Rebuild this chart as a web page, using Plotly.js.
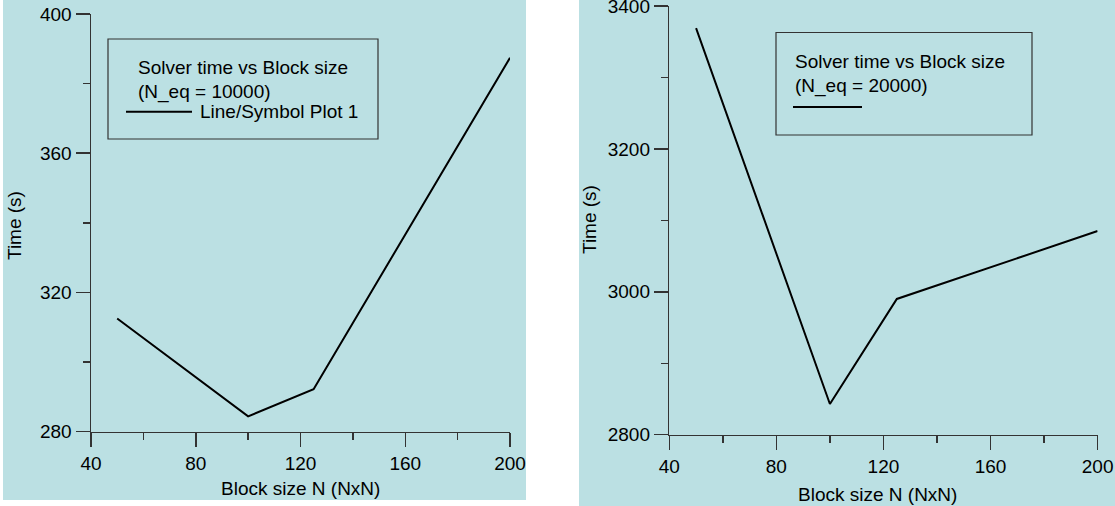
<!DOCTYPE html>
<html>
<head>
<meta charset="utf-8">
<script src="https://cdn.plot.ly/plotly-3.0.1.min.js"></script>
<style>html,body{margin:0;padding:0;background:#fff;}#chart{width:1115px;height:506px;}</style>
</head>
<body>
<div id="chart"></div>
<script>
// ---- data ----
const blockSize = [50, 100, 125, 200];
const time10k = [312.5, 284.4, 292.2, 387.4];
const time20k = [3369, 2843, 2990, 3085];
const xTickVals = [40, 80, 120, 160, 200];
const yTickValsLeft = [280, 320, 360, 400];
const yTickValsRight = [2800, 3000, 3200, 3400];
const legendTitle1 = ["Solver time vs Block size", "(N_eq = 10000)"];
const legendTitle2 = ["Solver time vs Block size", "(N_eq = 20000)"];
const seriesName1 = "Line/Symbol Plot 1";
const xTitle = "Block size N (NxN)";
const yTitle = "Time (s)";

const W = 1115, H = 506;
const px = v => v / W;
const py = v => 1 - v / H;
const FONT = "Liberation Sans, Arial, sans-serif";
const AX = "#333333";
const BG = "#BBE0E3";

function xAxis(domain, anchor) {
  return {
    domain: domain, anchor: anchor, range: [40, 200], tickmode: "array",
    tickvals: xTickVals, ticktext: xTickVals.map(String),
    showgrid: false, zeroline: false, showline: true, linecolor: AX, linewidth: 1.5,
    ticks: "outside", ticklen: 14, tickwidth: 1.5, tickcolor: AX,
    minor: {dtick: 20, tick0: 40, ticks: "outside", ticklen: 7, tickwidth: 1.5, tickcolor: AX, showgrid: false},
    tickfont: {family: FONT, size: 19, color: "#000"}, ticklabeloverflow: "allow", fixedrange: true
  };
}
function yAxis(domain, anchor, range, vals, minorStep) {
  return {
    domain: domain, anchor: anchor, range: range, tickmode: "array",
    tickvals: vals, ticktext: vals.map(String),
    showgrid: false, zeroline: false, showline: true, linecolor: AX, linewidth: 1.5,
    ticks: "outside", ticklen: 14, tickwidth: 1.5, tickcolor: AX,
    minor: {dtick: minorStep, tick0: range[0], ticks: "outside", ticklen: 7, tickwidth: 1.5, tickcolor: AX, showgrid: false},
    tickfont: {family: FONT, size: 19, color: "#000"}, ticklabeloverflow: "allow", fixedrange: true
  };
}

const traces = [
  {x: blockSize, y: time10k, xaxis: "x", yaxis: "y", type: "scatter", mode: "lines",
   name: seriesName1, line: {color: "#000", width: 2}, showlegend: false, cliponaxis: false},
  {x: blockSize, y: time20k, xaxis: "x2", yaxis: "y2", type: "scatter", mode: "lines",
   name: "N_eq = 20000", line: {color: "#000", width: 2}, showlegend: false, cliponaxis: false}
];

function ann(text, x, y, opts) {
  return Object.assign({text: text, x: px(x), y: py(y), xref: "paper", yref: "paper",
    showarrow: false, xanchor: "left", yanchor: "middle",
    font: {family: FONT, size: 19, color: "#000"}}, opts || {});
}

const annotations = [
  ann(legendTitle1[0], 135.5, 67.5),
  ann(legendTitle1[1], 135.5, 91.7),
  ann(seriesName1, 198, 111.5),
  ann(legendTitle2[0], 793, 61.7),
  ann(legendTitle2[1], 793, 86.3),
  ann(xTitle, 300.5, 488.8, {xanchor: "center"}),
  ann(xTitle, 877, 494, {xanchor: "center"}),
  ann(yTitle, 14, 226, {xanchor: "center", textangle: -90}),
  ann(yTitle, 590, 220, {xanchor: "center", textangle: -90})
];

const shapes = [
  {type: "rect", xref: "paper", yref: "paper", x0: px(3), x1: px(526), y0: py(500), y1: py(0),
   fillcolor: BG, line: {width: 0}, layer: "below"},
  {type: "rect", xref: "paper", yref: "paper", x0: px(579), x1: px(1115), y0: py(506), y1: py(0),
   fillcolor: BG, line: {width: 0}, layer: "below"},
  {type: "rect", xref: "paper", yref: "paper", x0: px(108), x1: px(378), y0: py(139), y1: py(39),
   fillcolor: "rgba(0,0,0,0)", line: {color: "#333", width: 1.2}},
  {type: "rect", xref: "paper", yref: "paper", x0: px(776), x1: px(1032), y0: py(135), y1: py(32.5),
   fillcolor: "rgba(0,0,0,0)", line: {color: "#333", width: 1.2}},
  {type: "line", xref: "paper", yref: "paper", x0: px(126), x1: px(192), y0: py(111.7), y1: py(111.7),
   line: {color: "#000", width: 2}},
  {type: "line", xref: "paper", yref: "paper", x0: px(793), x1: px(862), y0: py(107), y1: py(107),
   line: {color: "#000", width: 2}}
];

const layout = {
  width: W, height: H,
  margin: {l: 0, r: 0, t: 0, b: 0, pad: 0},
  paper_bgcolor: "#ffffff", plot_bgcolor: "rgba(0,0,0,0)",
  showlegend: false,
  xaxis: xAxis([px(91), px(510)], "y"),
  yaxis: yAxis([py(431.7), py(14)], "x", [280, 400], yTickValsLeft, 20),
  xaxis2: xAxis([px(669.3), px(1097.6)], "y2"),
  yaxis2: yAxis([py(434.7), py(6)], "x2", [2800, 3400], yTickValsRight, 100),
  annotations: annotations,
  shapes: shapes
};

Plotly.newPlot("chart", traces, layout, {displayModeBar: false, staticPlot: true});
</script>
</body>
</html>
